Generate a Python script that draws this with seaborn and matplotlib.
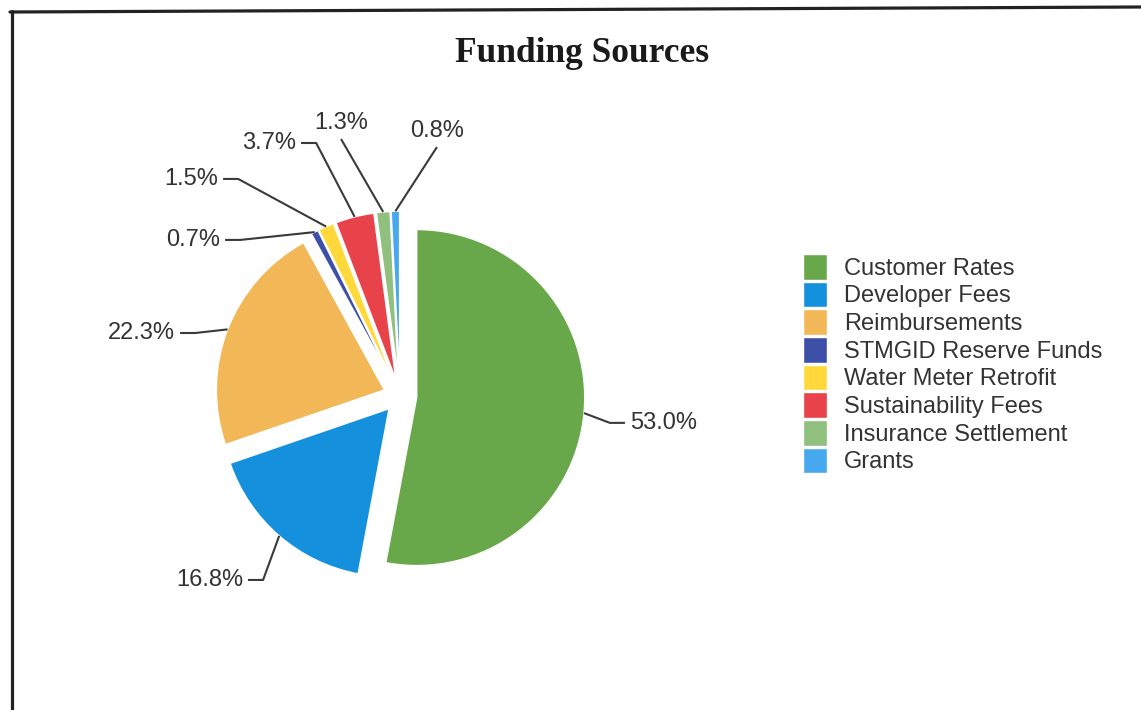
import numpy as np
import matplotlib
matplotlib.use("Agg")
import matplotlib.pyplot as plt
from matplotlib.lines import Line2D
import seaborn as sns

# Funding shares (percent of total)
categories = [
    "Customer Rates",
    "Developer Fees",
    "Reimbursements",
    "STMGID Reserve Funds",
    "Water Meter Retrofit",
    "Sustainability Fees",
    "Insurance Settlement",
    "Grants",
]
shares = [53.0, 16.8, 22.3, 0.7, 1.5, 3.7, 1.3, 0.8]
colors = ["#68a84a", "#1590dd", "#f2b756", "#3d50a8",
          "#ffd93b", "#e8434a", "#90c07e", "#46a8ee"]

# Label placement in data units (pie radius = 1): x, y, alignment
label_layout = [
    (1.369, -0.160, "left"),
    (-0.935, -1.095, "right"),
    (-1.339, 0.375, "right"),
    (-1.071, 0.929, "right"),
    (-1.083, 1.292, "right"),
    (-0.619, 1.506, "right"),
    (-0.351, 1.625, "center"),
    (0.220, 1.577, "center"),
]

sns.set_theme(style="white")
plt.rcParams["font.family"] = ["Liberation Sans", "DejaVu Sans"]

W, H = 1141, 710
fig = plt.figure(figsize=(W / 100, H / 100), dpi=100)
fig.patch.set_facecolor("white")

lim = 1.8
px_per_unit = 168
size = 2 * lim * px_per_unit
cx, cy = 400, H - 396
ax = fig.add_axes([(cx - size / 2) / W, (cy - size / 2) / H, size / W, size / H])

palette = sns.color_palette(colors)
wedges, _ = ax.pie(
    shares,
    colors=palette,
    startangle=90,
    counterclock=False,
    explode=[0.1] * len(shares),
    radius=1.0,
    wedgeprops=dict(edgecolor="white", linewidth=1.0),
)
ax.set_xlim(-lim, lim)
ax.set_ylim(-lim, lim)
ax.axis("off")

line_kw = dict(color="#3a3a3a", lw=1.5, solid_capstyle="butt", clip_on=False)
gap, seg, drop = 0.03, 0.09, 0.095
for w, val, (tx, ty, ha) in zip(wedges, shares, label_layout):
    mid = np.deg2rad((w.theta1 + w.theta2) / 2)
    px_, py_ = w.center[0] + w.r * np.cos(mid), w.center[1] + w.r * np.sin(mid)
    ax.text(tx, ty, f"{val:.1f}%", ha=ha, va="center", fontsize=17, color="#333333")
    if ha == "left":
        xs = [tx - gap, tx - gap - seg, px_]
        ys = [ty, ty, py_]
    elif ha == "right":
        xs = [tx + gap, tx + gap + seg, px_]
        ys = [ty, ty, py_]
    else:
        xs = [tx, px_]
        ys = [ty - drop, py_]
    ax.add_line(Line2D(xs, ys, **line_kw))

fig.text(582 / W, 1 - 54 / H, "Funding Sources", ha="center", va="center",
         fontsize=25.5, fontweight="bold", family=["Liberation Serif", "DejaVu Serif"],
         color="#1a1a1a")

leg = fig.legend(
    wedges, categories,
    loc="upper left", bbox_to_anchor=(803 / W, 1 - 254 / H),
    frameon=False, fontsize=17, borderpad=0, borderaxespad=0,
    handlelength=1.02, handleheight=1.3, handletextpad=0.72, labelspacing=0.08,
)
for t in leg.get_texts():
    t.set_color("#333333")

# Page frame around the chart
fig.add_artist(Line2D([10 / W, 1.0], [1 - 12 / H, 1 - 7 / H], color="#222222", lw=2.3))
fig.add_artist(Line2D([12 / W, 12 / W], [1 - 11 / H, 0.0], color="#222222", lw=2.3))

fig.savefig("out.png", dpi=100, facecolor="white")
